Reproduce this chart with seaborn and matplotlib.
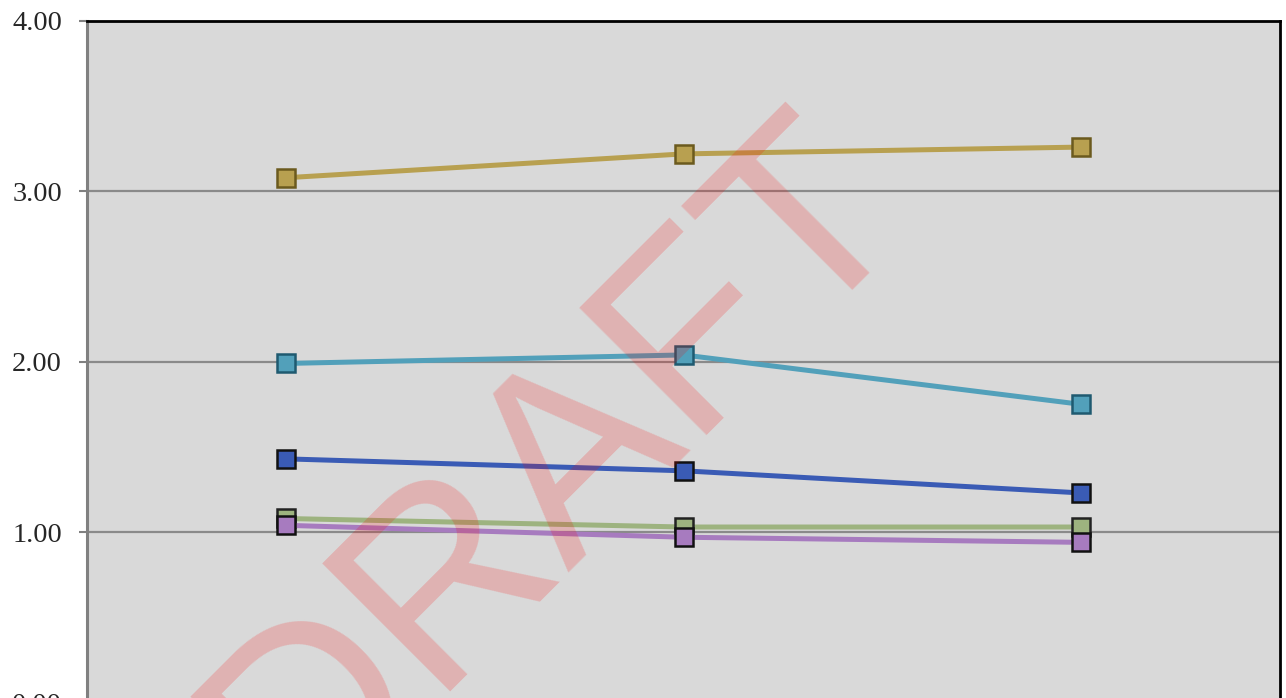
import matplotlib
matplotlib.use("Agg")
import matplotlib.pyplot as plt
import seaborn as sns
import pandas as pd

# data
periods = ["Period 1", "Period 2", "Period 3"]
series_names = ["Series 1", "Series 2", "Series 3", "Series 4", "Series 5"]
gold_vals = [3.08, 3.22, 3.26]
teal_vals = [1.99, 2.04, 1.75]
blue_vals = [1.43, 1.36, 1.23]
green_vals = [1.08, 1.03, 1.03]
purple_vals = [1.04, 0.97, 0.94]
y_ticks = [0, 1, 2, 3, 4]

line_colors = ["#b8a050", "#52a0ba", "#3a5bb5", "#9db37f", "#a77bbf"]
edge_colors = ["#6b5a1e", "#1f5a70", "#111111", "#222222", "#111111"]

df = pd.DataFrame({
    "period": periods * 5,
    "series": [s for s in series_names for _ in periods],
    "value": gold_vals + teal_vals + blue_vals + green_vals + purple_vals,
})

sns.set_style("white")
plt.rcParams['font.family'] = ['Liberation Serif', 'DejaVu Serif']

fig = plt.figure(figsize=(12.86, 6.98), dpi=100)
ax = fig.add_axes([87 / 1286, 1 - 702.5 / 698, 1193 / 1286, 681.5 / 698])
ax.set_facecolor("#d9d9d9")

for name, col, ec in zip(series_names, line_colors, edge_colors):
    sub = df[df["series"] == name]
    sns.lineplot(data=sub, x="period", y="value", color=col, linewidth=3.6,
                 marker="s", markersize=13, markeredgecolor=ec,
                 markeredgewidth=1.8, sort=False, legend=False, ax=ax, zorder=3)

ax.set_xlim(-0.5, 2.5)
ax.set_ylim(0, 4)
ax.set_yticks(y_ticks)
ax.set_yticklabels(["%.2f" % v for v in y_ticks], fontsize=20.5)
ax.set_xlabel("")
ax.set_ylabel("")
ax.tick_params(axis="y", length=6, width=1.5, color="#808080", pad=12, left=True)
ax.tick_params(axis="x", bottom=False, labelbottom=False)
ax.yaxis.grid(True, color="#8a8a8a", linewidth=1.6, zorder=1)
ax.set_axisbelow(True)

ax.spines["left"].set_color("#808080")
ax.spines["left"].set_linewidth(2.2)
for side in ["top", "right"]:
    ax.spines[side].set_color("black")
    ax.spines[side].set_linewidth(2)
ax.spines["bottom"].set_visible(False)

# watermark
ax.text(556 / 1286, 1 - 468 / 698, "DRAFT", transform=fig.transFigure,
        fontsize=188, family="Liberation Sans", color="red", alpha=0.18,
        rotation=45, ha="center", va="center", rotation_mode="anchor",
        zorder=10)

fig.savefig("out.png", dpi=100)
